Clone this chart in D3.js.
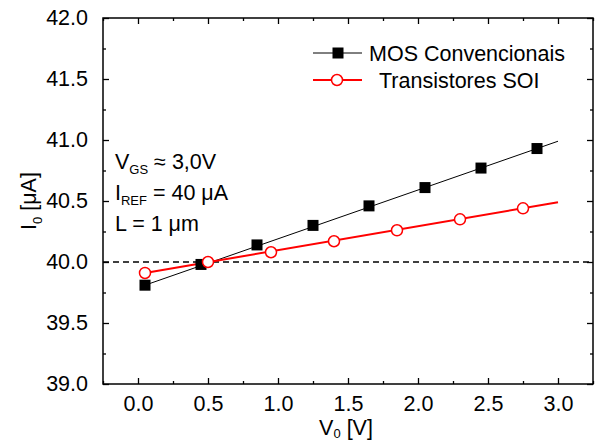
<!DOCTYPE html>
<html>
<head>
<meta charset="utf-8">
<script src="https://cdn.jsdelivr.net/npm/d3@7"></script>
<style>
  body { margin: 0; background: #fff; }
  text { font-family: "Liberation Sans", Arial, sans-serif; }
</style>
</head>
<body>
<div id="chart"></div>
<script>
// data
const mosV = [0.05, 0.45, 0.85, 1.25, 1.65, 2.05, 2.45, 2.85];
const mosI = [39.81, 39.98, 40.14, 40.30, 40.46, 40.61, 40.77, 40.93];
const soiV = [0.05, 0.5, 0.95, 1.4, 1.85, 2.3, 2.75];
const soiI = [39.91, 40.0, 40.08, 40.17, 40.26, 40.35, 40.44];
// linear fit lines (start / end)
const fitV = [0.05, 3.0];
const fitMOS = [39.81, 40.99];
const fitSOI = [39.91, 40.49];
const xTicks = [0, 0.5, 1, 1.5, 2, 2.5, 3];
const yTicks = [39, 39.5, 40, 40.5, 41, 41.5, 42];

const W = 595, H = 443;
const margin = { top: 18, right: 2, bottom: 59, left: 103 };
const width = W - margin.left - margin.right,
  height = H - margin.top - margin.bottom;

const svg = d3.select('#chart').append('svg')
  .attr('width', W).attr('height', H)
  .append('g')
  .attr('transform', `translate(${margin.left},${margin.top})`);

const x = d3.scaleLinear().domain([-0.25, 3.25]).range([0, width]);
const y = d3.scaleLinear().domain([39, 42]).range([height, 0]);

const fs = 21.5;

// axes with inward ticks, all four sides
const minorX = d3.range(-0.25, 3.26, 0.25).filter(v => !xTicks.some(t => Math.abs(t - v) < 1e-6));
const minorY = d3.range(39.25, 42, 0.5);

svg.append('g').attr('transform', `translate(0,${height})`)
  .call(d3.axisBottom(x).tickValues(xTicks).tickSizeInner(-6).tickSizeOuter(0).tickPadding(12).tickFormat(d3.format('.1f')));
svg.append('g').attr('transform', `translate(0,${height})`)
  .call(d3.axisBottom(x).tickValues(minorX).tickSizeInner(-3).tickSizeOuter(0).tickFormat(''));
svg.append('g')
  .call(d3.axisTop(x).tickValues(xTicks).tickSizeInner(-6).tickSizeOuter(0).tickFormat(''));
svg.append('g')
  .call(d3.axisTop(x).tickValues(minorX).tickSizeInner(-3).tickSizeOuter(0).tickFormat(''));

svg.append('g')
  .call(d3.axisLeft(y).tickValues(yTicks).tickSizeInner(-6).tickSizeOuter(0).tickPadding(15).tickFormat(d3.format('.1f')));
svg.append('g')
  .call(d3.axisLeft(y).tickValues(minorY).tickSizeInner(-3).tickSizeOuter(0).tickFormat(''));
svg.append('g').attr('transform', `translate(${width},0)`)
  .call(d3.axisRight(y).tickValues(yTicks).tickSizeInner(-6).tickSizeOuter(0).tickFormat(''));
svg.append('g').attr('transform', `translate(${width},0)`)
  .call(d3.axisRight(y).tickValues(minorY).tickSizeInner(-3).tickSizeOuter(0).tickFormat(''));

svg.selectAll('.domain').remove();
svg.selectAll('.tick line').attr('stroke', '#000').attr('stroke-width', 1.3);
svg.selectAll('.tick text').attr('fill', '#000').style('font-size', fs + 'px')
  .style('font-family', '"Liberation Sans", Arial, sans-serif');

// frame
svg.append('rect').attr('width', width).attr('height', height)
  .attr('fill', 'none').attr('stroke', '#000').attr('stroke-width', 1.5);

// dashed reference line
svg.append('line')
  .attr('x1', 0).attr('x2', width)
  .attr('y1', y(40)).attr('y2', y(40))
  .attr('stroke', '#000').attr('stroke-width', 1.5)
  .attr('stroke-dasharray', '6,4');

const line = d3.line().x(d => x(d[0])).y(d => y(d[1]));

// fit lines
svg.append('path').datum(fitV.map((v, i) => [v, fitMOS[i]]))
  .attr('d', line).attr('fill', 'none').attr('stroke', '#000').attr('stroke-width', 1);
svg.append('path').datum(fitV.map((v, i) => [v, fitSOI[i]]))
  .attr('d', line).attr('fill', 'none').attr('stroke', '#f00').attr('stroke-width', 2);

// markers
const sq = 11;
svg.append('g').selectAll('rect')
  .data(mosV.map((v, i) => [v, mosI[i]]))
  .join('rect')
  .attr('x', d => x(d[0]) - sq / 2)
  .attr('y', d => y(d[1]) - sq / 2)
  .attr('width', sq).attr('height', sq)
  .attr('fill', '#000');

svg.append('g').selectAll('circle')
  .data(soiV.map((v, i) => [v, soiI[i]]))
  .join('circle')
  .attr('cx', d => x(d[0]))
  .attr('cy', d => y(d[1]))
  .attr('r', 5.5)
  .attr('fill', '#fff').attr('stroke', '#f00').attr('stroke-width', 1.5);

// legend
const lg = svg.append('g').attr('transform', `translate(${313 - margin.left},${53 - margin.top})`);
lg.append('line').attr('x1', 0).attr('x2', 49).attr('y1', 0).attr('y2', 0)
  .attr('stroke', '#000').attr('stroke-width', 1);
lg.append('rect').attr('x', 25 - sq / 2).attr('y', -sq / 2).attr('width', sq).attr('height', sq).attr('fill', '#000');
lg.append('text').attr('x', 56).attr('y', 7.5).style('font-size', fs + 'px').text('MOS Convencionais');
lg.append('line').attr('x1', 0).attr('x2', 49).attr('y1', 27).attr('y2', 27)
  .attr('stroke', '#f00').attr('stroke-width', 2);
lg.append('circle').attr('cx', 24).attr('cy', 27).attr('r', 5.5)
  .attr('fill', '#fff').attr('stroke', '#f00').attr('stroke-width', 1.5);
lg.append('text').attr('x', 66).attr('y', 34.5).style('font-size', fs + 'px').text('Transistores SOI');

// annotations
const ann = svg.append('g').attr('transform', `translate(${115 - margin.left},0)`);
const t1 = ann.append('text').attr('y', 169 - margin.top).style('font-size', fs + 'px');
t1.append('tspan').text('V');
t1.append('tspan').attr('dy', 5).style('font-size', '13px').text('GS');
t1.append('tspan').attr('dy', -5).text(' \u2248 3,0V');
const t2 = ann.append('text').attr('y', 200 - margin.top).style('font-size', fs + 'px');
t2.append('tspan').text('I');
t2.append('tspan').attr('dy', 5).style('font-size', '13px').text('REF');
t2.append('tspan').attr('dy', -5).text(' = 40 \u03BCA');
ann.append('text').attr('y', 231 - margin.top).style('font-size', fs + 'px').text('L = 1 \u03BCm');

// axis titles
const xt = svg.append('text').attr('text-anchor', 'middle')
  .attr('x', x(1.5) - 2).attr('y', 435 - margin.top).style('font-size', fs + 'px');
xt.append('tspan').text('V');
xt.append('tspan').attr('dy', 3).style('font-size', '13px').text('0');
xt.append('tspan').attr('dy', -3).text(' [V]');

const yt = svg.append('text').attr('text-anchor', 'middle')
  .attr('transform', `translate(${36 - margin.left},${height / 2}) rotate(-90)`)
  .style('font-size', fs + 'px');
yt.append('tspan').text('I');
yt.append('tspan').attr('dy', 6).style('font-size', '13px').text('0');
yt.append('tspan').attr('dy', -6).text(' [\u03BCA]');
</script>
</body>
</html>
